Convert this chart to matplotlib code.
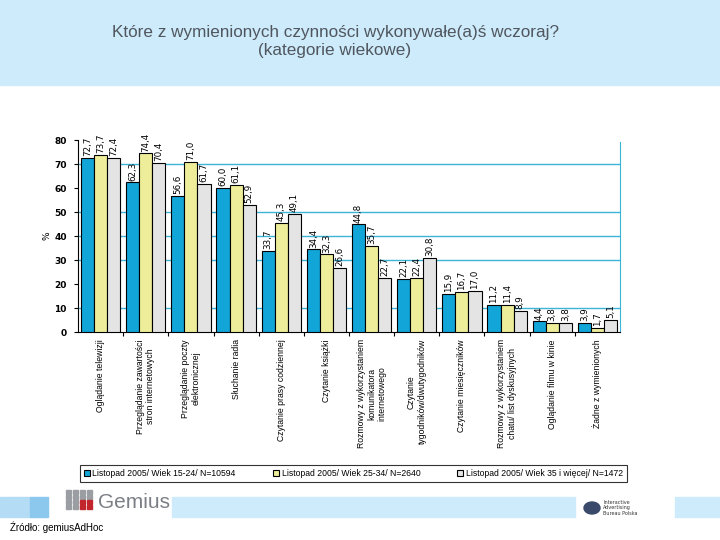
import matplotlib.pyplot as plt
import numpy as np
from matplotlib.patches import Rectangle

# dane
kategorie = ["Oglądanie telewizji",
             "Przeglądanie zawartości\nstron internetowych",
             "Przeglądanie poczty\nelektronicznej",
             "Słuchanie radia",
             "Czytanie prasy codziennej",
             "Czytanie książki",
             "Rozmowy z wykorzystaniem\nkomunikatora\ninternetowego",
             "Czytanie\ntygodników/dwutygodników",
             "Czytanie miesięczników",
             "Rozmowy z wykorzystaniem\nchatu/ list dyskusyjnych",
             "Oglądanie filmu w kinie",
             "Żadne z wymienionych"]
wiek_15_24 = [72.7, 62.3, 56.6, 60.0, 33.7, 34.4, 44.8, 22.1, 15.9, 11.2, 4.4, 3.9]
wiek_25_34 = [73.7, 74.4, 71.0, 61.1, 45.3, 32.3, 35.7, 22.4, 16.7, 11.4, 3.8, 1.7]
wiek_35 = [72.4, 70.4, 61.7, 52.9, 49.1, 26.6, 22.7, 30.8, 17.0, 8.9, 3.8, 5.1]
serie_nazwy = ["Listopad 2005/ Wiek 15-24/ N=10594",
               "Listopad 2005/ Wiek 25-34/ N=2640",
               "Listopad 2005/ Wiek 35 i więcej/ N=1472"]
y_ticki = [0, 10, 20, 30, 40, 50, 60, 70, 80]
siatka = [10, 30, 40, 50, 70]

kolory = ["#12a5d8", "#eeee9a", "#e4e4e4"]

fig = plt.figure(figsize=(7.2, 5.4), dpi=100)

# niebieskie pasy tla
fig.patches.append(Rectangle((0, 1 - 85/540), 1, 85/540, transform=fig.transFigure,
                             color="#cdebfb", zorder=0))
fig.patches.append(Rectangle((0, 1 - 517/540), 30/720, 20/540, transform=fig.transFigure,
                             color="#b5dcf5", zorder=0))
fig.patches.append(Rectangle((30/720, 1 - 517/540), 18/720, 20/540, transform=fig.transFigure,
                             color="#8cc8ee", zorder=0))
fig.patches.append(Rectangle((172/720, 1 - 517/540), 403/720, 20/540, transform=fig.transFigure,
                             color="#cdebfb", zorder=0))
fig.patches.append(Rectangle((675/720, 1 - 517/540), 45/720, 20/540, transform=fig.transFigure,
                             color="#cdebfb", zorder=0))

fig.text(335/720, 1 - 33/540, "Które z wymienionych czynności wykonywałe(a)ś wczoraj?",
         ha="center", va="center", fontsize=12.3, color="#50565e", family="Liberation Sans")
fig.text(335/720, 1 - 50/540, "(kategorie wiekowe)",
         ha="center", va="center", fontsize=12.3, color="#50565e", family="Liberation Sans")

ax = fig.add_axes([78/720, 1 - 332/540, 542/720, 192/540])

x = np.arange(len(kategorie))
w = 0.29
for i, (vals, kol) in enumerate(zip([wiek_15_24, wiek_25_34, wiek_35], kolory)):
    pos = x + (i - 1) * w
    ax.bar(pos, vals, w, color=kol, edgecolor="black", linewidth=0.8, zorder=3,
           label=serie_nazwy[i])
    for p, v in zip(pos, vals):
        ax.text(p, v + 0.8, ("%.1f" % v).replace(".", ","), rotation=90, ha="center",
                va="bottom", fontsize=6.3, family="Liberation Sans Narrow")

for g in siatka:
    ax.axhline(g, color="#3cb4d8", linewidth=1, zorder=1)

ax.set_xlim(-0.5, len(kategorie) - 0.5)
ax.set_ylim(0, 80)
ax.set_yticks(y_ticki)
ax.set_yticklabels([str(t) for t in y_ticki], fontsize=6.5, fontweight="bold",
                   family="Liberation Sans Narrow")
ax.set_ylabel("%", fontsize=6.5, rotation=90, labelpad=2)
ax.set_xticks(x[:-1] + 0.5)
ax.set_xticklabels([])
ax.tick_params(axis="x", length=3, direction="out")
ax.tick_params(axis="y", length=3, direction="out", pad=5)
ax.spines["top"].set_visible(False)
ax.spines["right"].set_color("#3cb4d8")
ax.spines["right"].set_bounds(0, 79)

for xi, k in zip(x, kategorie):
    ax.text(xi, -3, k, rotation=90, ha="center", va="top", fontsize=6.2,
            family="Liberation Sans", transform=ax.transData, multialignment="center")

leg = fig.legend(loc="lower left", bbox_to_anchor=(80/720, 1 - 482/540, 547/720, 19/540),
                 mode="expand", ncol=3, frameon=True, fancybox=False,
                 prop={"family": "Liberation Sans", "size": 6.2},
                 edgecolor="black", handlelength=0.7, handleheight=0.7, borderpad=0.45,
                 handletextpad=0.3, borderaxespad=0)
leg.get_frame().set_linewidth(0.8)

# logo i zrodlo
fig.text(98/720, 1 - 503/540, "Gemius", fontsize=15, color="#7a7f85",
         va="center", ha="left", family="Liberation Sans")
for r in range(4):
    for c in range(4):
        kol = "#c0262c" if (r >= 2 and c >= 2) else "#9a9ea3"
        fig.patches.append(Rectangle(((66 + c * 7) / 720, 1 - (494 + r * 5) / 540), 5/720, 4/540,
                                     transform=fig.transFigure, color=kol, zorder=2))
fig.patches.append(plt.Circle((592/720, 1 - 508/540), 8/720, transform=fig.transFigure,
                              color="#3a4a6a", zorder=2))
fig.text(603/720, 1 - 508/540, "Interactive\nAdvertising\nBureau Polska", fontsize=3.5,
         va="center", ha="left", color="#333333")
fig.text(10/720, 1 - 527/540, "Źródło: gemiusAdHoc", fontsize=7, va="center", ha="left",
         family="Liberation Sans")

fig.savefig("out.png", dpi=100)
